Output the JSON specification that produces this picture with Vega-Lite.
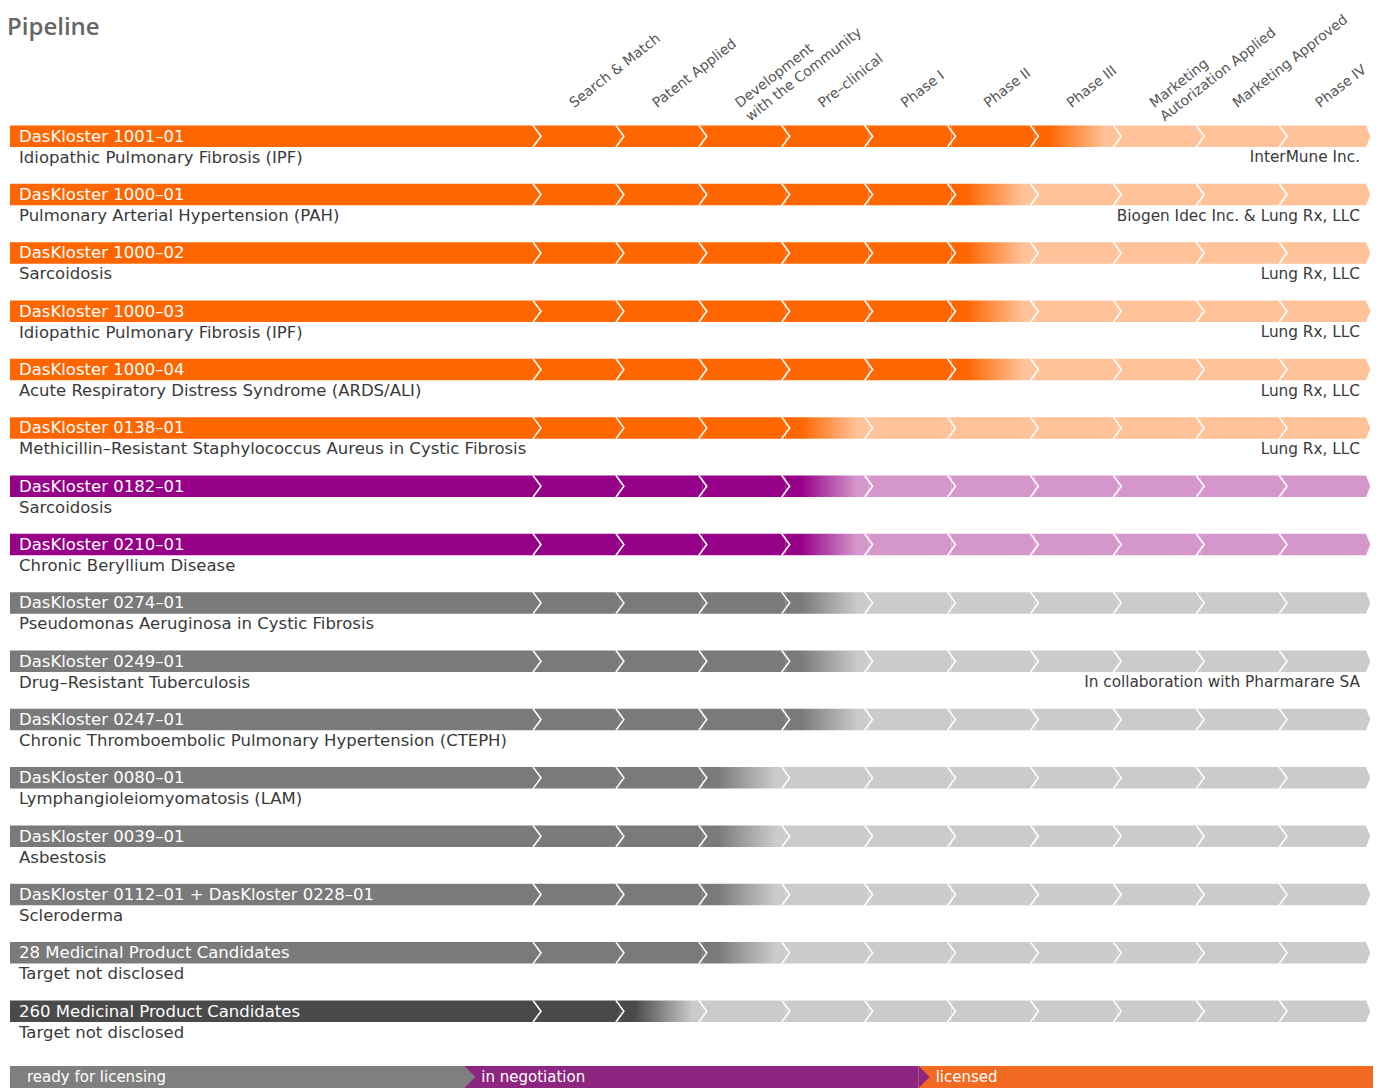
{
  "$schema": "https://vega.github.io/schema/vega-lite/v6.json",
  "width": 1383,
  "height": 1088,
  "autosize": {"type": "fit", "contains": "padding"},
  "padding": 0,
  "background": "white",
  "config": {"view": {"stroke": null}},
  "resolve": {"scale": {"x": "independent", "y": "independent", "fill": "independent"}},
  "datasets": {
    "stages": [
      {"name": "Search & Match", "from": 0, "to": 1, "label": "Search & Match"},
      {"name": "Patent Applied", "from": 1, "to": 2, "label": "Patent Applied"},
      {"name": "Development with the Community", "from": 2, "to": 3, "label": "Development\nwith the Community"},
      {"name": "Pre-clinical", "from": 3, "to": 4, "label": "Pre–clinical"},
      {"name": "Phase I", "from": 4, "to": 5, "label": "Phase I"},
      {"name": "Phase II", "from": 5, "to": 6, "label": "Phase II"},
      {"name": "Phase III", "from": 6, "to": 7, "label": "Phase III"},
      {"name": "Marketing Autorization Applied", "from": 7, "to": 8, "label": "Marketing\nAutorization Applied"},
      {"name": "Marketing Approved", "from": 8, "to": 9, "label": "Marketing Approved"},
      {"name": "Phase IV", "from": 9, "to": 10, "label": "Phase IV"}
    ],
    "rows": [
      {"row": 0, "id": "DasKloster 1001–01", "disease": "Idiopathic Pulmonary Fibrosis (IPF)", "partner": "InterMune Inc.", "group": "licensed",
       "Search & Match": "done", "Patent Applied": "done", "Development with the Community": "done", "Pre-clinical": "done", "Phase I": "done", "Phase II": "done", "Phase III": "current", "Marketing Autorization Applied": "todo", "Marketing Approved": "todo", "Phase IV": "todo"},
      {"row": 1, "id": "DasKloster 1000–01", "disease": "Pulmonary Arterial Hypertension (PAH)", "partner": "Biogen Idec Inc. & Lung Rx, LLC", "group": "licensed",
       "Search & Match": "done", "Patent Applied": "done", "Development with the Community": "done", "Pre-clinical": "done", "Phase I": "done", "Phase II": "current", "Phase III": "todo", "Marketing Autorization Applied": "todo", "Marketing Approved": "todo", "Phase IV": "todo"},
      {"row": 2, "id": "DasKloster 1000–02", "disease": "Sarcoidosis", "partner": "Lung Rx, LLC", "group": "licensed",
       "Search & Match": "done", "Patent Applied": "done", "Development with the Community": "done", "Pre-clinical": "done", "Phase I": "done", "Phase II": "current", "Phase III": "todo", "Marketing Autorization Applied": "todo", "Marketing Approved": "todo", "Phase IV": "todo"},
      {"row": 3, "id": "DasKloster 1000–03", "disease": "Idiopathic Pulmonary Fibrosis (IPF)", "partner": "Lung Rx, LLC", "group": "licensed",
       "Search & Match": "done", "Patent Applied": "done", "Development with the Community": "done", "Pre-clinical": "done", "Phase I": "done", "Phase II": "current", "Phase III": "todo", "Marketing Autorization Applied": "todo", "Marketing Approved": "todo", "Phase IV": "todo"},
      {"row": 4, "id": "DasKloster 1000–04", "disease": "Acute Respiratory Distress Syndrome (ARDS/ALI)", "partner": "Lung Rx, LLC", "group": "licensed",
       "Search & Match": "done", "Patent Applied": "done", "Development with the Community": "done", "Pre-clinical": "done", "Phase I": "done", "Phase II": "current", "Phase III": "todo", "Marketing Autorization Applied": "todo", "Marketing Approved": "todo", "Phase IV": "todo"},
      {"row": 5, "id": "DasKloster 0138–01", "disease": "Methicillin–Resistant Staphylococcus Aureus in Cystic Fibrosis", "partner": "Lung Rx, LLC", "group": "licensed",
       "Search & Match": "done", "Patent Applied": "done", "Development with the Community": "done", "Pre-clinical": "current", "Phase I": "todo", "Phase II": "todo", "Phase III": "todo", "Marketing Autorization Applied": "todo", "Marketing Approved": "todo", "Phase IV": "todo"},
      {"row": 6, "id": "DasKloster 0182–01", "disease": "Sarcoidosis", "partner": "", "group": "negotiation",
       "Search & Match": "done", "Patent Applied": "done", "Development with the Community": "done", "Pre-clinical": "current", "Phase I": "todo", "Phase II": "todo", "Phase III": "todo", "Marketing Autorization Applied": "todo", "Marketing Approved": "todo", "Phase IV": "todo"},
      {"row": 7, "id": "DasKloster 0210–01", "disease": "Chronic Beryllium Disease", "partner": "", "group": "negotiation",
       "Search & Match": "done", "Patent Applied": "done", "Development with the Community": "done", "Pre-clinical": "current", "Phase I": "todo", "Phase II": "todo", "Phase III": "todo", "Marketing Autorization Applied": "todo", "Marketing Approved": "todo", "Phase IV": "todo"},
      {"row": 8, "id": "DasKloster 0274–01", "disease": "Pseudomonas Aeruginosa in Cystic Fibrosis", "partner": "", "group": "ready",
       "Search & Match": "done", "Patent Applied": "done", "Development with the Community": "done", "Pre-clinical": "current", "Phase I": "todo", "Phase II": "todo", "Phase III": "todo", "Marketing Autorization Applied": "todo", "Marketing Approved": "todo", "Phase IV": "todo"},
      {"row": 9, "id": "DasKloster 0249–01", "disease": "Drug–Resistant Tuberculosis", "partner": "In collaboration with Pharmarare SA", "group": "ready",
       "Search & Match": "done", "Patent Applied": "done", "Development with the Community": "done", "Pre-clinical": "current", "Phase I": "todo", "Phase II": "todo", "Phase III": "todo", "Marketing Autorization Applied": "todo", "Marketing Approved": "todo", "Phase IV": "todo"},
      {"row": 10, "id": "DasKloster 0247–01", "disease": "Chronic Thromboembolic Pulmonary Hypertension (CTEPH)", "partner": "", "group": "ready",
       "Search & Match": "done", "Patent Applied": "done", "Development with the Community": "done", "Pre-clinical": "current", "Phase I": "todo", "Phase II": "todo", "Phase III": "todo", "Marketing Autorization Applied": "todo", "Marketing Approved": "todo", "Phase IV": "todo"},
      {"row": 11, "id": "DasKloster 0080–01", "disease": "Lymphangioleiomyomatosis (LAM)", "partner": "", "group": "ready",
       "Search & Match": "done", "Patent Applied": "done", "Development with the Community": "current", "Pre-clinical": "todo", "Phase I": "todo", "Phase II": "todo", "Phase III": "todo", "Marketing Autorization Applied": "todo", "Marketing Approved": "todo", "Phase IV": "todo"},
      {"row": 12, "id": "DasKloster 0039–01", "disease": "Asbestosis", "partner": "", "group": "ready",
       "Search & Match": "done", "Patent Applied": "done", "Development with the Community": "current", "Pre-clinical": "todo", "Phase I": "todo", "Phase II": "todo", "Phase III": "todo", "Marketing Autorization Applied": "todo", "Marketing Approved": "todo", "Phase IV": "todo"},
      {"row": 13, "id": "DasKloster 0112–01 + DasKloster 0228–01", "disease": "Scleroderma", "partner": "", "group": "ready",
       "Search & Match": "done", "Patent Applied": "done", "Development with the Community": "current", "Pre-clinical": "todo", "Phase I": "todo", "Phase II": "todo", "Phase III": "todo", "Marketing Autorization Applied": "todo", "Marketing Approved": "todo", "Phase IV": "todo"},
      {"row": 14, "id": "28 Medicinal Product Candidates", "disease": "Target not disclosed", "partner": "", "group": "ready",
       "Search & Match": "done", "Patent Applied": "done", "Development with the Community": "current", "Pre-clinical": "todo", "Phase I": "todo", "Phase II": "todo", "Phase III": "todo", "Marketing Autorization Applied": "todo", "Marketing Approved": "todo", "Phase IV": "todo"},
      {"row": 15, "id": "260 Medicinal Product Candidates", "disease": "Target not disclosed", "partner": "", "group": "undisclosed",
       "Search & Match": "done", "Patent Applied": "current", "Development with the Community": "todo", "Pre-clinical": "todo", "Phase I": "todo", "Phase II": "todo", "Phase III": "todo", "Marketing Autorization Applied": "todo", "Marketing Approved": "todo", "Phase IV": "todo"}
    ],
    "legend": [
      {"order": 0, "status": "ready for licensing"},
      {"order": 1, "status": "in negotiation"},
      {"order": 2, "status": "licensed"}
    ],
    "title": [{"text": "Pipeline"}]
  },
  "layer": [
    {
      "data": {"name": "rows"},
      "mark": {"type": "rect", "yOffset": -10.75, "y2Offset": 10.75},
      "encoding": {
        "x": {"datum": -6.357, "type": "quantitative", "scale": {"domain": [-6.4777, 10.205], "nice": false, "zero": false}, "axis": null},
        "x2": {"datum": 0},
        "y": {"field": "row", "type": "quantitative", "scale": {"domain": [-2.3358, 16.3168], "nice": false, "zero": false, "reverse": true}, "axis": null},
        "y2": {"field": "row"},
        "fill": {"field": "group", "type": "nominal", "scale": {"domain": ["licensed", "negotiation", "ready", "undisclosed"], "range": ["#ff6600", "#960088", "#7a7a7a", "#4a4a4c"]}, "legend": null}
      }
    },
    {
      "data": {"name": "rows"},
      "transform": [
        {"fold": ["Search & Match", "Patent Applied", "Development with the Community", "Pre-clinical", "Phase I", "Phase II", "Phase III", "Marketing Autorization Applied", "Marketing Approved", "Phase IV"], "as": ["stage", "status"]},
        {"lookup": "stage", "from": {"data": {"name": "stages"}, "key": "name", "fields": ["from", "to"]}},
        {"filter": "datum.status === 'done'"}
      ],
      "mark": {"type": "rect", "yOffset": -10.75, "y2Offset": 10.75},
      "encoding": {
        "x": {"field": "from", "type": "quantitative", "scale": {"domain": [-6.4777, 10.205], "nice": false, "zero": false}, "axis": null},
        "x2": {"field": "to"},
        "y": {"field": "row", "type": "quantitative", "scale": {"domain": [-2.3358, 16.3168], "nice": false, "zero": false, "reverse": true}, "axis": null},
        "y2": {"field": "row"},
        "fill": {"field": "group", "type": "nominal", "scale": {"domain": ["licensed", "negotiation", "ready", "undisclosed"], "range": ["#ff6600", "#960088", "#7a7a7a", "#4a4a4c"]}, "legend": null}
      }
    },
    {
      "data": {"name": "rows"},
      "transform": [
        {"fold": ["Search & Match", "Patent Applied", "Development with the Community", "Pre-clinical", "Phase I", "Phase II", "Phase III", "Marketing Autorization Applied", "Marketing Approved", "Phase IV"], "as": ["stage", "status"]},
        {"lookup": "stage", "from": {"data": {"name": "stages"}, "key": "name", "fields": ["from", "to"]}},
        {"filter": "datum.status === 'todo'"}
      ],
      "mark": {"type": "rect", "yOffset": -10.75, "y2Offset": 10.75},
      "encoding": {
        "x": {"field": "from", "type": "quantitative", "scale": {"domain": [-6.4777, 10.205], "nice": false, "zero": false}, "axis": null},
        "x2": {"field": "to"},
        "y": {"field": "row", "type": "quantitative", "scale": {"domain": [-2.3358, 16.3168], "nice": false, "zero": false, "reverse": true}, "axis": null},
        "y2": {"field": "row"},
        "fill": {"field": "group", "type": "nominal", "scale": {"domain": ["licensed", "negotiation", "ready", "undisclosed"], "range": ["#ffc299", "#d597cb", "#cbcbcb", "#cbcbcb"]}, "legend": null}
      }
    },
    {
      "data": {"name": "rows"},
      "transform": [
        {"fold": ["Search & Match", "Patent Applied", "Development with the Community", "Pre-clinical", "Phase I", "Phase II", "Phase III", "Marketing Autorization Applied", "Marketing Approved", "Phase IV"], "as": ["stage", "status"]},
        {"lookup": "stage", "from": {"data": {"name": "stages"}, "key": "name", "fields": ["from", "to"]}},
        {"filter": "datum.status === 'current' && datum.group === 'licensed'"}
      ],
      "mark": {"type": "rect", "yOffset": -10.75, "y2Offset": 10.75,
        "fill": {"gradient": "linear", "x1": 0, "x2": 1, "y1": 0, "y2": 0, "stops": [{"offset": 0, "color": "#ff6600"}, {"offset": 0.18, "color": "#ff6600"}, {"offset": 0.86, "color": "#ffc299"}, {"offset": 1, "color": "#ffc299"}]}},
      "encoding": {
        "x": {"field": "from", "type": "quantitative", "scale": {"domain": [-6.4777, 10.205], "nice": false, "zero": false}, "axis": null},
        "x2": {"field": "to"},
        "y": {"field": "row", "type": "quantitative", "scale": {"domain": [-2.3358, 16.3168], "nice": false, "zero": false, "reverse": true}, "axis": null},
        "y2": {"field": "row"}
      }
    },
    {
      "data": {"name": "rows"},
      "transform": [
        {"fold": ["Search & Match", "Patent Applied", "Development with the Community", "Pre-clinical", "Phase I", "Phase II", "Phase III", "Marketing Autorization Applied", "Marketing Approved", "Phase IV"], "as": ["stage", "status"]},
        {"lookup": "stage", "from": {"data": {"name": "stages"}, "key": "name", "fields": ["from", "to"]}},
        {"filter": "datum.status === 'current' && datum.group === 'negotiation'"}
      ],
      "mark": {"type": "rect", "yOffset": -10.75, "y2Offset": 10.75,
        "fill": {"gradient": "linear", "x1": 0, "x2": 1, "y1": 0, "y2": 0, "stops": [{"offset": 0, "color": "#960088"}, {"offset": 0.18, "color": "#960088"}, {"offset": 0.86, "color": "#d597cb"}, {"offset": 1, "color": "#d597cb"}]}},
      "encoding": {
        "x": {"field": "from", "type": "quantitative", "scale": {"domain": [-6.4777, 10.205], "nice": false, "zero": false}, "axis": null},
        "x2": {"field": "to"},
        "y": {"field": "row", "type": "quantitative", "scale": {"domain": [-2.3358, 16.3168], "nice": false, "zero": false, "reverse": true}, "axis": null},
        "y2": {"field": "row"}
      }
    },
    {
      "data": {"name": "rows"},
      "transform": [
        {"fold": ["Search & Match", "Patent Applied", "Development with the Community", "Pre-clinical", "Phase I", "Phase II", "Phase III", "Marketing Autorization Applied", "Marketing Approved", "Phase IV"], "as": ["stage", "status"]},
        {"lookup": "stage", "from": {"data": {"name": "stages"}, "key": "name", "fields": ["from", "to"]}},
        {"filter": "datum.status === 'current' && datum.group === 'ready'"}
      ],
      "mark": {"type": "rect", "yOffset": -10.75, "y2Offset": 10.75,
        "fill": {"gradient": "linear", "x1": 0, "x2": 1, "y1": 0, "y2": 0, "stops": [{"offset": 0, "color": "#7a7a7a"}, {"offset": 0.18, "color": "#7a7a7a"}, {"offset": 0.88, "color": "#cbcbcb"}, {"offset": 1, "color": "#cbcbcb"}]}},
      "encoding": {
        "x": {"field": "from", "type": "quantitative", "scale": {"domain": [-6.4777, 10.205], "nice": false, "zero": false}, "axis": null},
        "x2": {"field": "to"},
        "y": {"field": "row", "type": "quantitative", "scale": {"domain": [-2.3358, 16.3168], "nice": false, "zero": false, "reverse": true}, "axis": null},
        "y2": {"field": "row"}
      }
    },
    {
      "data": {"name": "rows"},
      "transform": [
        {"fold": ["Search & Match", "Patent Applied", "Development with the Community", "Pre-clinical", "Phase I", "Phase II", "Phase III", "Marketing Autorization Applied", "Marketing Approved", "Phase IV"], "as": ["stage", "status"]},
        {"lookup": "stage", "from": {"data": {"name": "stages"}, "key": "name", "fields": ["from", "to"]}},
        {"filter": "datum.status === 'current' && datum.group === 'undisclosed'"}
      ],
      "mark": {"type": "rect", "yOffset": -10.75, "y2Offset": 10.75,
        "fill": {"gradient": "linear", "x1": 0, "x2": 1, "y1": 0, "y2": 0, "stops": [{"offset": 0, "color": "#4a4a4c"}, {"offset": 0.18, "color": "#4a4a4c"}, {"offset": 0.88, "color": "#cbcbcb"}, {"offset": 1, "color": "#cbcbcb"}]}},
      "encoding": {
        "x": {"field": "from", "type": "quantitative", "scale": {"domain": [-6.4777, 10.205], "nice": false, "zero": false}, "axis": null},
        "x2": {"field": "to"},
        "y": {"field": "row", "type": "quantitative", "scale": {"domain": [-2.3358, 16.3168], "nice": false, "zero": false, "reverse": true}, "axis": null},
        "y2": {"field": "row"}
      }
    },
    {
      "data": {"name": "rows"},
      "mark": {"type": "point", "shape": "M 0 -1 L 0.4 0 L 0 1 Z", "filled": true, "size": 462, "opacity": 1, "strokeWidth": 0},
      "encoding": {
        "x": {"datum": 10, "type": "quantitative", "scale": {"domain": [-6.4777, 10.205], "nice": false, "zero": false}, "axis": null},
        "y": {"field": "row", "type": "quantitative", "scale": {"domain": [-2.3358, 16.3168], "nice": false, "zero": false, "reverse": true}, "axis": null},
        "fill": {"field": "group", "type": "nominal", "scale": {"domain": ["licensed", "negotiation", "ready", "undisclosed"], "range": ["#ffc299", "#d597cb", "#cbcbcb", "#cbcbcb"]}, "legend": null}
      }
    },
    {
      "data": {"name": "rows"},
      "transform": [
        {"fold": ["Search & Match", "Patent Applied", "Development with the Community", "Pre-clinical", "Phase I", "Phase II", "Phase III", "Marketing Autorization Applied", "Marketing Approved", "Phase IV"], "as": ["stage", "status"]},
        {"lookup": "stage", "from": {"data": {"name": "stages"}, "key": "name", "fields": ["from", "to"]}}
      ],
      "mark": {"type": "point", "shape": "M -0.37 -1 L 0.37 0 L -0.37 1", "filled": false, "size": 462, "opacity": 1, "stroke": "white", "strokeWidth": 1.6},
      "encoding": {
        "x": {"field": "from", "type": "quantitative", "scale": {"domain": [-6.4777, 10.205], "nice": false, "zero": false}, "axis": null},
        "y": {"field": "row", "type": "quantitative", "scale": {"domain": [-2.3358, 16.3168], "nice": false, "zero": false, "reverse": true}, "axis": null}
      }
    },
    {
      "data": {"name": "rows"},
      "mark": {"type": "text", "align": "left", "baseline": "alphabetic", "dx": 9, "dy": 5.5, "font": "DejaVu Sans", "fontSize": 16.5, "fill": "white"},
      "encoding": {
        "x": {"datum": -6.357, "type": "quantitative", "scale": {"domain": [-6.4777, 10.205], "nice": false, "zero": false}, "axis": null},
        "y": {"field": "row", "type": "quantitative", "scale": {"domain": [-2.3358, 16.3168], "nice": false, "zero": false, "reverse": true}, "axis": null},
        "text": {"field": "id", "type": "nominal"}
      }
    },
    {
      "data": {"name": "rows"},
      "mark": {"type": "text", "align": "left", "baseline": "alphabetic", "dx": 9, "dy": 26.5, "font": "DejaVu Sans", "fontSize": 16.5, "fill": "#3a3a3a"},
      "encoding": {
        "x": {"datum": -6.357, "type": "quantitative", "scale": {"domain": [-6.4777, 10.205], "nice": false, "zero": false}, "axis": null},
        "y": {"field": "row", "type": "quantitative", "scale": {"domain": [-2.3358, 16.3168], "nice": false, "zero": false, "reverse": true}, "axis": null},
        "text": {"field": "disease", "type": "nominal"}
      }
    },
    {
      "data": {"name": "rows"},
      "mark": {"type": "text", "align": "right", "baseline": "alphabetic", "dx": -6, "dy": 26, "font": "DejaVu Sans", "fontSize": 15.3, "fill": "#3a3a3a"},
      "encoding": {
        "x": {"datum": 10, "type": "quantitative", "scale": {"domain": [-6.4777, 10.205], "nice": false, "zero": false}, "axis": null},
        "y": {"field": "row", "type": "quantitative", "scale": {"domain": [-2.3358, 16.3168], "nice": false, "zero": false, "reverse": true}, "axis": null},
        "text": {"field": "partner", "type": "nominal"}
      }
    },
    {
      "data": {"name": "stages"},
      "mark": {"type": "text", "align": "left", "baseline": "alphabetic", "angle": 322, "font": "DejaVu Sans", "fontSize": 14, "fill": "#555555", "lineBreak": "\n", "lineHeight": 17},
      "encoding": {
        "x": {"field": "from", "type": "quantitative", "scale": {"domain": [-6.4777, 10.205], "nice": false, "zero": false}, "axis": null},
        "y": {"datum": -0.48, "type": "quantitative", "scale": {"domain": [-2.3358, 16.3168], "nice": false, "zero": false, "reverse": true}, "axis": null},
        "xOffset": {"value": 37},
        "text": {"field": "label", "type": "nominal"}
      }
    },
    {
      "data": {"name": "title"},
      "mark": {"type": "text", "align": "left", "baseline": "alphabetic", "font": "Open Sans", "fontSize": 24, "fontWeight": 600, "fill": "#666666"},
      "encoding": {
        "x": {"datum": -6.393, "type": "quantitative", "scale": {"domain": [-6.4777, 10.205], "nice": false, "zero": false}, "axis": null},
        "y": {"datum": -1.74, "type": "quantitative", "scale": {"domain": [-2.3358, 16.3168], "nice": false, "zero": false, "reverse": true}, "axis": null},
        "text": {"field": "text", "type": "nominal"}
      }
    },
    {
      "data": {"name": "legend"},
      "mark": {"type": "rect", "yOffset": -11, "y2Offset": 11},
      "encoding": {
        "x": {"field": "order", "type": "ordinal", "scale": {"type": "band", "paddingInner": 0, "paddingOuter": 0.022}, "axis": null},
        "y": {"datum": 16.128, "type": "quantitative", "scale": {"domain": [-2.3358, 16.3168], "nice": false, "zero": false, "reverse": true}, "axis": null},
        "y2": {"datum": 16.128},
        "fill": {"field": "status", "type": "nominal", "scale": {"domain": ["ready for licensing", "in negotiation", "licensed"], "range": ["#7e7f7e", "#8d2680", "#f26a21"]}, "legend": null}
      }
    },
    {
      "data": {"name": "legend"},
      "transform": [{"filter": "datum.order < 2"}],
      "mark": {"type": "point", "shape": "M 0 -1 L 1 0 L 0 1 Z", "filled": true, "size": 484, "opacity": 1, "strokeWidth": 0},
      "encoding": {
        "x": {"field": "order", "type": "ordinal", "bandPosition": 1, "scale": {"type": "band", "domain": [0, 1, 2], "paddingInner": 0, "paddingOuter": 0.022}, "axis": null},
        "y": {"datum": 16.128, "type": "quantitative", "scale": {"domain": [-2.3358, 16.3168], "nice": false, "zero": false, "reverse": true}, "axis": null},
        "fill": {"field": "status", "type": "nominal", "scale": {"domain": ["ready for licensing", "in negotiation", "licensed"], "range": ["#7e7f7e", "#8d2680", "#f26a21"]}, "legend": null}
      }
    },
    {
      "data": {"name": "legend"},
      "mark": {"type": "text", "align": "left", "baseline": "alphabetic", "dx": 17, "dy": 5, "font": "DejaVu Sans", "fontSize": 15, "fill": "white"},
      "encoding": {
        "x": {"field": "order", "type": "ordinal", "bandPosition": 0, "scale": {"type": "band", "paddingInner": 0, "paddingOuter": 0.022}, "axis": null},
        "y": {"datum": 16.128, "type": "quantitative", "scale": {"domain": [-2.3358, 16.3168], "nice": false, "zero": false, "reverse": true}, "axis": null},
        "text": {"field": "status", "type": "nominal"}
      }
    }
  ]
}
